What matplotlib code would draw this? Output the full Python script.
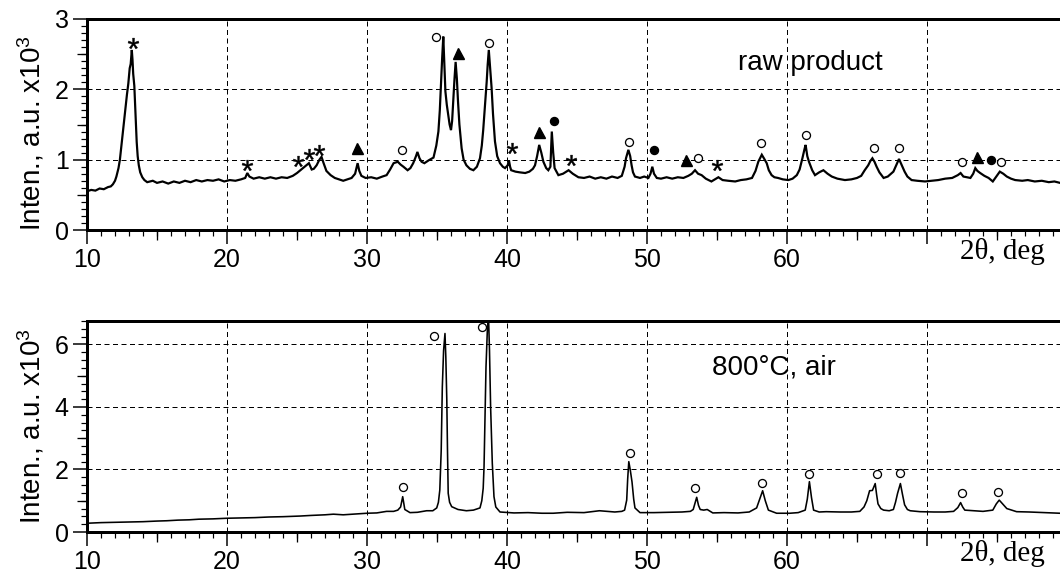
import matplotlib
matplotlib.use("Agg")
import matplotlib.pyplot as plt
from matplotlib.ticker import MultipleLocator, FixedLocator, NullFormatter

plt.rcParams['font.family'] = ['Liberation Sans', 'DejaVu Sans']
plt.rcParams['mathtext.fontset'] = 'custom'
plt.rcParams['mathtext.rm'] = 'Liberation Sans'
plt.rcParams['mathtext.it'] = 'Liberation Sans:italic'

# ---------------- data: raw product (2theta, intensity x10^3) ----------------
raw_x = [10.0, 10.3, 10.6, 10.9, 11.2, 11.5, 11.7, 11.85, 12.0, 12.1,
         12.25, 12.35, 12.5, 12.6, 12.75, 12.85, 12.95, 13.05, 13.12, 13.2,
         13.25, 13.3, 13.38, 13.45, 13.55, 13.62, 13.7, 13.8, 13.95, 14.1,
         14.3, 14.7, 15.0, 15.4, 15.8, 16.2, 16.6, 17.0, 17.4, 17.8,
         18.2, 18.6, 19.0, 19.4, 19.8, 20.2, 20.6, 21.0, 21.3, 21.45,
         21.6, 21.9, 22.3, 22.7, 23.1, 23.5, 23.9, 24.3, 24.7, 25.0,
         25.3, 25.55, 25.85, 26.05, 26.2, 26.4, 26.6, 26.75, 26.9, 27.1,
         27.4, 27.7, 28.0, 28.3, 28.6, 28.9, 29.15, 29.33, 29.45, 29.6,
         29.9, 30.3, 30.7, 31.1, 31.4, 31.65, 31.9, 32.2, 32.4, 32.6,
         32.9, 33.1, 33.3, 33.5, 33.6, 33.75, 33.9, 34.1, 34.4, 34.75,
         34.95, 35.1, 35.2, 35.27, 35.37, 35.45, 35.52, 35.6, 35.7, 35.8,
         35.9, 36.0, 36.08, 36.16, 36.25, 36.33, 36.42, 36.5, 36.6, 36.76,
         36.9, 37.1, 37.35, 37.6, 37.85, 38.07, 38.2, 38.3, 38.38, 38.47,
         38.55, 38.62, 38.7, 38.8, 38.9, 39.0, 39.14, 39.3, 39.5, 39.7,
         39.86, 40.05, 40.14, 40.22, 40.3, 40.6, 40.9, 41.3, 41.6, 41.85,
         42.0, 42.15, 42.3, 42.45, 42.6, 42.8, 42.95, 43.1, 43.2, 43.3,
         43.4, 43.67, 44.0, 44.4, 44.7, 45.1, 45.5, 45.9, 46.3, 46.7,
         47.1, 47.5, 47.9, 48.2, 48.4, 48.5, 48.67, 48.8, 48.9, 49.0,
         49.14, 49.5, 49.8, 50.1, 50.25, 50.38, 50.5, 50.7, 51.0, 51.4,
         51.8, 52.2, 52.6, 52.95, 53.2, 53.43, 53.65, 53.9, 54.2, 54.6,
         54.85, 55.1, 55.4, 55.8, 56.3, 56.7, 57.1, 57.5, 57.75, 57.95,
         58.2, 58.35, 58.55, 58.7, 58.9, 59.1, 59.36, 59.7, 60.1, 60.4,
         60.7, 60.9, 61.1, 61.25, 61.33, 61.45, 61.57, 61.8, 62.0, 62.3,
         62.6, 62.9, 63.2, 63.6, 64.14, 64.6, 65.0, 65.3, 65.55, 65.8,
         65.95, 66.1, 66.25, 66.4, 66.6, 66.9, 67.2, 67.6, 67.8, 68.0,
         68.2, 68.4, 68.6, 68.9, 69.3, 69.86, 70.3, 70.8, 71.3, 71.8,
         72.2, 72.4, 72.6, 72.85, 73.1, 73.3, 73.45, 73.6, 73.8, 74.1,
         74.4, 74.7, 74.95, 75.2, 75.45, 75.7, 76.0, 76.3, 76.8, 77.2,
         77.7, 78.2, 78.7, 79.1, 79.5]
raw_y = [0.55, 0.57, 0.56, 0.59, 0.58, 0.61, 0.62, 0.65, 0.70, 0.76,
         0.88, 1.00, 1.28, 1.48, 1.75, 1.92, 2.08, 2.30, 2.36, 2.56,
         2.42, 2.22, 2.05, 1.72, 1.25, 1.05, 0.92, 0.82, 0.75, 0.71,
         0.68, 0.70, 0.67, 0.69, 0.66, 0.69, 0.67, 0.70, 0.68, 0.71,
         0.69, 0.71, 0.70, 0.72, 0.69, 0.71, 0.70, 0.72, 0.74, 0.81,
         0.76, 0.73, 0.75, 0.73, 0.75, 0.73, 0.75, 0.74, 0.77, 0.81,
         0.86, 0.90, 0.95, 0.86, 0.87, 0.92, 1.00, 1.04, 0.95, 0.84,
         0.78, 0.74, 0.72, 0.70, 0.72, 0.74, 0.80, 0.95, 0.84, 0.77,
         0.74, 0.75, 0.73, 0.76, 0.78, 0.86, 0.95, 0.97, 0.93, 0.90,
         0.85, 0.88, 0.95, 1.05, 1.11, 1.02, 0.97, 0.95, 0.99, 1.03,
         1.20, 1.40, 1.70, 2.02, 2.45, 2.75, 2.40, 1.97, 1.78, 1.64,
         1.50, 1.42, 1.55, 1.83, 2.15, 2.39, 2.15, 1.83, 1.50, 1.16,
         1.00, 0.92, 0.87, 0.85, 0.90, 1.02, 1.20, 1.42, 1.64, 1.90,
         2.11, 2.35, 2.56, 2.30, 2.02, 1.65, 1.26, 1.05, 0.95, 0.90,
         0.88, 0.92, 0.99, 0.90, 0.85, 0.83, 0.82, 0.81, 0.83, 0.87,
         0.92, 1.05, 1.21, 1.10, 0.97, 0.88, 0.85, 0.90, 1.40, 1.10,
         0.88, 0.78, 0.80, 0.85, 0.80, 0.75, 0.74, 0.76, 0.73, 0.75,
         0.73, 0.76, 0.74, 0.77, 0.90, 1.02, 1.14, 1.05, 0.92, 0.82,
         0.76, 0.74, 0.76, 0.74, 0.80, 0.90, 0.80, 0.74, 0.73, 0.75,
         0.73, 0.75, 0.74, 0.77, 0.80, 0.85, 0.80, 0.78, 0.73, 0.69,
         0.72, 0.75, 0.71, 0.70, 0.69, 0.71, 0.72, 0.74, 0.84, 0.97,
         1.07, 1.02, 0.95, 0.85, 0.78, 0.75, 0.74, 0.72, 0.71, 0.73,
         0.78, 0.86, 1.02, 1.15, 1.21, 1.05, 0.97, 0.85, 0.78, 0.82,
         0.85, 0.80, 0.76, 0.73, 0.71, 0.72, 0.74, 0.77, 0.85, 0.92,
         0.98, 1.02, 0.97, 0.90, 0.82, 0.74, 0.76, 0.83, 0.92, 1.01,
         0.92, 0.83, 0.76, 0.71, 0.70, 0.69, 0.70, 0.71, 0.73, 0.74,
         0.78, 0.81, 0.76, 0.75, 0.74, 0.80, 0.88, 0.84, 0.81, 0.77,
         0.74, 0.69, 0.76, 0.83, 0.80, 0.76, 0.73, 0.71, 0.70, 0.71,
         0.69, 0.70, 0.68, 0.69, 0.67]

# ---------------- data: 800 C, air ----------------
air_x = [10.0, 11.0, 12.0, 13.0, 14.0, 15.0, 15.7, 16.5, 17.3, 18.0,
         19.0, 20.0, 21.0, 22.0, 23.0, 24.0, 25.2, 26.0, 27.0, 27.6,
         28.3, 29.0, 30.0, 30.7, 31.4, 31.9, 32.2, 32.4, 32.55, 32.7,
         33.07, 33.6, 34.26, 34.7, 34.98, 35.1, 35.2, 35.3, 35.38, 35.47,
         35.57, 35.63, 35.7, 35.75, 35.8, 35.9, 36.05, 36.5, 37.1, 37.6,
         38.07, 38.2, 38.3, 38.36, 38.43, 38.5, 38.6, 38.68, 38.75, 38.83,
         38.95, 39.07, 39.2, 39.5, 40.5, 41.5, 42.5, 43.3, 44.3, 45.5,
         46.6, 47.2, 47.7, 48.2, 48.4, 48.55, 48.62, 48.7, 48.8, 48.93,
         49.05, 49.14, 49.5, 50.5, 51.5, 52.5, 53.1, 53.3, 53.45, 53.55,
         53.68, 53.8, 54.05, 54.3, 54.7, 55.5, 56.5, 57.3, 57.83, 58.05,
         58.26, 58.45, 58.67, 59.26, 60.2, 60.8, 61.3, 61.45, 61.6, 61.75,
         61.9, 62.3, 62.8, 63.8, 64.6, 65.2, 65.5, 65.7, 65.9, 66.1,
         66.3, 66.4, 66.5, 66.7, 66.9, 67.3, 67.6, 67.75, 67.9, 68.1,
         68.25, 68.4, 68.6, 68.8, 69.5, 70.5, 71.3, 71.9, 72.2, 72.4,
         72.55, 72.7, 73.3, 74.0, 74.7, 74.95, 75.16, 75.4, 75.7, 76.4,
         77.3, 78.4, 79.5]
air_y = [0.28, 0.30, 0.31, 0.32, 0.33, 0.35, 0.36, 0.38, 0.39, 0.41,
         0.42, 0.44, 0.45, 0.46, 0.48, 0.49, 0.51, 0.53, 0.55, 0.57,
         0.55, 0.57, 0.60, 0.61, 0.66, 0.66, 0.70, 0.80, 1.13, 0.72,
         0.62, 0.63, 0.68, 0.68, 0.77, 0.95, 1.34, 2.60, 4.64, 5.80,
         6.35, 5.60, 4.22, 2.60, 1.24, 0.95, 0.81, 0.72, 0.68, 0.70,
         0.77, 1.00, 1.40, 2.09, 3.60, 5.28, 6.50, 6.90, 5.80, 4.00,
         2.20, 1.13, 0.80, 0.64, 0.61, 0.62, 0.60, 0.60, 0.63, 0.62,
         0.68, 0.66, 0.64, 0.66, 0.70, 1.02, 1.70, 2.25, 2.00, 1.60,
         1.05, 0.77, 0.62, 0.62, 0.63, 0.64, 0.66, 0.72, 0.95, 1.11,
         0.85, 0.72, 0.70, 0.72, 0.61, 0.62, 0.61, 0.64, 0.77, 1.05,
         1.32, 1.00, 0.70, 0.60, 0.60, 0.62, 0.70, 1.05, 1.61, 1.10,
         0.70, 0.64, 0.65, 0.64, 0.64, 0.66, 0.80, 1.00, 1.32, 1.33,
         1.55, 1.20, 0.90, 0.75, 0.70, 0.68, 0.72, 0.95, 1.24, 1.55,
         1.20, 0.87, 0.72, 0.68, 0.65, 0.64, 0.64, 0.66, 0.78, 0.94,
         0.80, 0.70, 0.68, 0.66, 0.70, 0.90, 1.02, 0.90, 0.75, 0.65,
         0.64, 0.62, 0.60]

# ---------------- phase markers ----------------
raw_star_x = [13.27, 21.45, 25.1, 25.88, 26.6, 40.38, 44.55, 54.98]
raw_star_y = [2.66, 0.92, 0.98, 1.08, 1.14, 1.16, 0.99, 0.92]
raw_tri_x = [29.26, 36.48, 42.29, 52.76, 73.6]
raw_tri_y = [1.16, 2.51, 1.40, 1.00, 1.04]
raw_dot_x = [43.38, 50.52, 74.57]
raw_dot_y = [1.55, 1.14, 0.99]
raw_circ_x = [32.52, 34.93, 38.71, 48.71, 53.67, 58.12, 61.33, 66.24, 68.0, 72.52, 75.29]
raw_circ_y = [1.14, 2.75, 2.66, 1.25, 1.03, 1.23, 1.35, 1.16, 1.16, 0.96, 0.96]

air_circ_x = [32.6, 34.8, 38.2, 48.8, 53.4, 58.2, 61.6, 66.4, 68.1, 72.5, 75.1]
air_circ_y = [1.44, 6.26, 6.55, 2.52, 1.41, 1.57, 1.87, 1.87, 1.89, 1.26, 1.27]

x_ticks = [10, 20, 30, 40, 50, 60, 70]
x_ticklabels = ['10', '20', '30', '40', '50', '60', '']
raw_yticks = [0, 1, 2, 3]
air_yticks = [0, 2, 4, 6]

PX = 0.72  # one pixel in points at dpi 100

fig = plt.figure(figsize=(10.6, 5.77), dpi=100)
ax1 = fig.add_axes([87 / 1060, 1 - 230 / 577, 973 / 1060, 211 / 577])
ax2 = fig.add_axes([87 / 1060, 1 - 532 / 577, 973 / 1060, 211 / 577])


def style(ax, yticks, ymax, yminor, ymid, label_y):
    ax.set_xlim(10, 79.5)
    ax.set_ylim(0, ymax)
    for s in ['top', 'left', 'bottom']:
        ax.spines[s].set_linewidth(3 * PX)
    ax.spines['right'].set_visible(False)
    ax.xaxis.set_major_locator(FixedLocator(x_ticks))
    ax.set_xticklabels(x_ticklabels)
    ax.xaxis.set_minor_locator(MultipleLocator(1))
    ax.yaxis.set_major_locator(FixedLocator(yticks))
    ax.yaxis.set_minor_locator(MultipleLocator(yminor))
    ax.tick_params(which='major', direction='out', length=14 * PX, width=1.5 * PX,
                   labelsize=18, pad=3, top=False, right=False)
    ax.tick_params(which='minor', direction='out', length=6 * PX, width=1.2 * PX,
                   top=False, right=False)
    # medium ticks
    sx = ax.secondary_xaxis('bottom')
    sx.set_xticks([15, 25, 35, 45, 55, 65, 75])
    sx.xaxis.set_major_formatter(NullFormatter())
    sx.tick_params(direction='out', length=10 * PX, width=1.3 * PX)
    sx.spines['bottom'].set_visible(False)
    sy = ax.secondary_yaxis('left')
    sy.set_yticks(ymid)
    sy.yaxis.set_major_formatter(NullFormatter())
    sy.tick_params(direction='out', length=10 * PX, width=1.3 * PX)
    sy.spines['left'].set_visible(False)
    for gx in x_ticks[1:]:
        ax.axvline(gx, color='black', lw=1.0 * PX, ls=(0, (5, 3.5)), zorder=1)
    for gy in yticks[1:]:
        if gy < ymax:
            ax.axhline(gy, color='black', lw=1.0 * PX, ls=(0, (5, 3.5)), zorder=1)
    ax.set_ylabel('Inten., a.u. x10$^{\\mathrm{3}}$', fontsize=20)
    ax.yaxis.set_label_coords(-0.042, label_y)
    ax.text(75.4, -0.04, '2\u03b8, deg', transform=ax.get_xaxis_transform(),
            ha='center', va='top', fontsize=21, family=['Liberation Serif', 'DejaVu Serif'])


style(ax1, raw_yticks, 3.0, 0.1, [0.5, 1.5, 2.5], 0.46)
style(ax2, air_yticks, 6.75, 0.25, [1, 3, 5], 0.50)

ax1.plot(raw_x, raw_y, color='black', lw=2.2 * PX, zorder=3, solid_joinstyle='miter')
ax2.plot(air_x, air_y, color='black', lw=1.6 * PX, zorder=3)

mk = dict(ls='none', color='black', zorder=4, clip_on=False)
ax1.plot(raw_star_x, raw_star_y, marker='$*$', markersize=11 * PX, mew=0.3, **mk)
ax1.plot(raw_tri_x, raw_tri_y, marker='^', markersize=11 * PX, **mk)
ax1.plot(raw_dot_x, raw_dot_y, marker='o', markersize=8 * PX, **mk)
ax1.plot(raw_circ_x, raw_circ_y, marker='o', markersize=8 * PX, mfc='white', mew=1.3 * PX, **mk)
ax2.plot(air_circ_x, air_circ_y, marker='o', markersize=8 * PX, mfc='white', mew=1.3 * PX, **mk)

ax1.text(56.5, 2.28, 'raw product', fontsize=20, ha='left', va='baseline')
ax2.text(54.64, 5.05, '800\u00b0C, air', fontsize=20, ha='left', va='baseline')

fig.savefig('out.png', dpi=100)
